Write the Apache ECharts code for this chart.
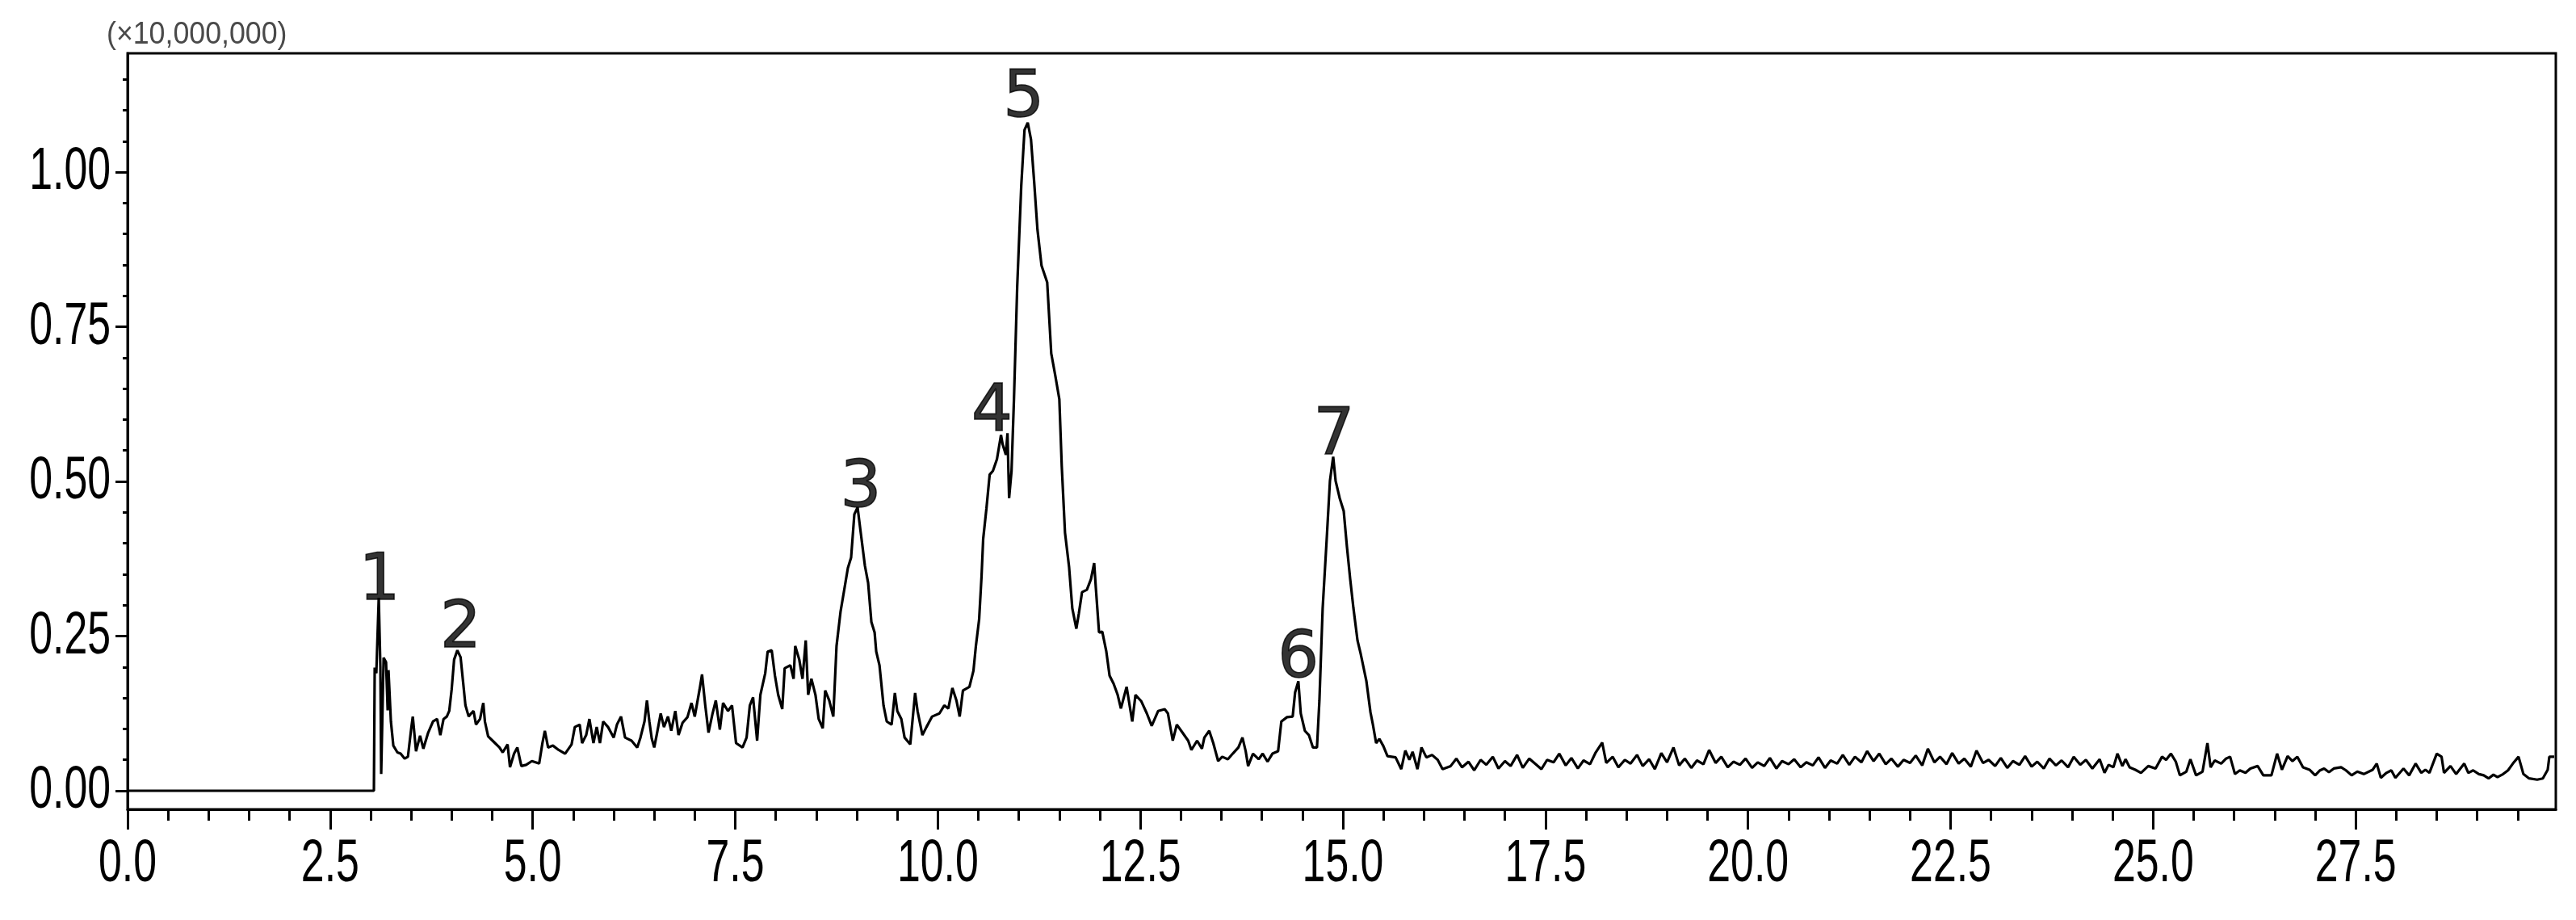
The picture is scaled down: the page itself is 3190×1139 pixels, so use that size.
<!DOCTYPE html>
<html>
<head>
<meta charset="utf-8">
<script src="https://cdn.jsdelivr.net/npm/echarts@6/dist/echarts.min.js"></script>
<style>
html,body{margin:0;padding:0;background:#fff;}
#chart{width:3190px;height:1139px;}
</style>
</head>
<body>
<div id="chart"></div>
<script>
// Retention time (min)
const retentionTime = [
0,3.04,3.05,3.07,3.10,3.12,3.13,3.16,3.19,3.21,3.22,3.25,3.28,3.33,3.37,3.42,3.46,3.50,3.52,3.56,
3.61,3.65,3.71,3.77,3.82,3.86,3.90,3.94,3.97,4.00,4.03,4.07,4.11,4.14,4.17,4.21,4.24,4.27,4.30,4.35,
4.39,4.41,4.45,4.52,4.59,4.63,4.69,4.72,4.77,4.81,4.86,4.92,4.99,5.08,5.12,5.15,5.19,5.25,5.32,5.40,
5.48,5.52,5.58,5.61,5.66,5.70,5.75,5.79,5.83,5.87,5.93,6.00,6.04,6.09,6.14,6.22,6.29,6.33,6.38,6.41,
6.44,6.47,6.50,6.53,6.58,6.62,6.67,6.71,6.76,6.80,6.85,6.91,6.96,7.00,7.06,7.09,7.13,7.17,7.22,7.26,
7.31,7.35,7.41,7.46,7.51,7.59,7.64,7.68,7.72,7.77,7.81,7.87,7.90,7.95,7.99,8.03,8.08,8.11,8.18,8.22,
8.24,8.29,8.33,8.37,8.40,8.44,8.49,8.53,8.58,8.61,8.66,8.71,8.75,8.80,8.84,8.89,8.93,8.97,9.01,9.05,
9.10,9.14,9.18,9.22,9.24,9.28,9.33,9.37,9.43,9.47,9.50,9.55,9.59,9.66,9.72,9.75,9.81,9.86,9.93,10.02,
10.08,10.13,10.18,10.23,10.27,10.31,10.39,10.44,10.47,10.51,10.54,10.56,10.60,10.64,10.68,10.73,10.78,10.80,10.84,10.86,
10.88,10.91,10.94,10.98,11.03,11.07,11.11,11.15,11.19,11.23,11.28,11.35,11.40,11.45,11.50,11.53,11.57,11.62,11.66,11.71,
11.74,11.78,11.84,11.89,11.93,11.95,11.99,12.03,12.08,12.12,12.17,12.22,12.26,12.33,12.40,12.44,12.51,12.58,12.64,12.72,
12.80,12.84,12.90,12.95,13.02,13.09,13.13,13.20,13.26,13.29,13.35,13.40,13.46,13.51,13.58,13.64,13.71,13.76,13.80,13.83,
13.89,13.96,14.01,14.07,14.13,14.20,14.24,14.31,14.38,14.41,14.45,14.48,14.53,14.58,14.63,14.68,14.71,14.75,14.80,14.84,
14.88,14.91,14.96,15.01,15.05,15.09,15.13,15.18,15.22,15.29,15.34,15.37,15.41,15.45,15.50,15.55,15.65,15.72,15.77,15.82,
15.86,15.92,15.97,16.03,16.10,16.17,16.23,16.33,16.40,16.47,16.55,16.62,16.70,16.77,16.85,16.92,17.00,17.07,17.15,17.22,
17.30,17.37,17.45,17.52,17.60,17.67,17.75,17.82,17.90,17.97,18.05,18.12,18.20,18.25,18.33,18.40,18.48,18.55,18.63,18.70,
18.78,18.85,18.93,19.00,19.08,19.15,19.22,19.30,19.37,19.45,19.52,19.60,19.67,19.75,19.82,19.90,19.97,20.05,20.12,20.20,
20.27,20.35,20.42,20.50,20.57,20.65,20.72,20.80,20.87,20.95,21.02,21.10,21.17,21.25,21.32,21.40,21.47,21.55,21.62,21.70,
21.77,21.85,21.92,22.00,22.07,22.15,22.22,22.30,22.37,22.45,22.52,22.60,22.67,22.75,22.82,22.90,22.97,23.05,23.12,23.20,
23.27,23.35,23.42,23.50,23.57,23.65,23.72,23.80,23.87,23.95,24.02,24.10,24.17,24.25,24.34,24.40,24.45,24.51,24.56,24.62,
24.66,24.71,24.78,24.85,24.94,25.03,25.11,25.16,25.22,25.28,25.33,25.41,25.46,25.53,25.61,25.67,25.71,25.76,25.84,25.90,
25.95,26.01,26.07,26.14,26.20,26.29,26.36,26.46,26.53,26.59,26.66,26.72,26.78,26.85,26.93,27.00,27.06,27.11,27.17,27.23,
27.32,27.38,27.45,27.52,27.60,27.71,27.76,27.81,27.88,27.94,27.99,28.09,28.16,28.24,28.31,28.36,28.41,28.50,28.56,28.59,
28.67,28.74,28.84,28.89,28.95,29.02,29.08,29.14,29.20,29.25,29.32,29.38,29.44,29.51,29.57,29.64,29.74,29.81,29.87,29.89,
29.95
];
// Intensity (x10,000,000)
const intensity = [
0,0,0.199,0.190,0.312,0.200,0.027,0.215,0.208,0.130,0.195,0.112,0.073,0.062,0.060,0.052,0.055,0.100,0.120,0.064,
0.089,0.068,0.094,0.112,0.116,0.090,0.116,0.120,0.129,0.164,0.212,0.227,0.216,0.177,0.138,0.120,0.125,0.129,0.107,0.116,
0.142,0.112,0.088,0.079,0.070,0.062,0.075,0.038,0.060,0.070,0.040,0.042,0.048,0.044,0.077,0.097,0.070,0.073,0.066,0.060,
0.075,0.103,0.107,0.077,0.090,0.116,0.077,0.103,0.077,0.112,0.103,0.086,0.107,0.120,0.086,0.081,0.070,0.086,0.112,0.146,
0.112,0.084,0.070,0.090,0.125,0.103,0.120,0.097,0.129,0.090,0.110,0.119,0.142,0.120,0.164,0.188,0.138,0.094,0.125,0.146,
0.099,0.142,0.129,0.138,0.077,0.070,0.086,0.138,0.151,0.081,0.155,0.190,0.225,0.227,0.186,0.155,0.132,0.198,0.203,0.181,
0.234,0.212,0.181,0.243,0.155,0.181,0.155,0.116,0.101,0.162,0.146,0.120,0.234,0.290,0.321,0.360,0.377,0.447,0.458,0.416,
0.364,0.336,0.273,0.256,0.225,0.203,0.138,0.112,0.107,0.158,0.129,0.116,0.086,0.075,0.158,0.129,0.090,0.103,0.120,0.125,
0.138,0.133,0.166,0.146,0.120,0.162,0.168,0.194,0.234,0.277,0.347,0.407,0.456,0.511,0.517,0.536,0.575,0.560,0.543,0.578,
0.473,0.517,0.633,0.815,0.978,1.068,1.080,1.053,0.983,0.907,0.849,0.822,0.707,0.671,0.633,0.524,0.417,0.362,0.295,0.262,
0.286,0.321,0.325,0.342,0.368,0.329,0.256,0.257,0.225,0.186,0.173,0.155,0.133,0.168,0.112,0.155,0.145,0.125,0.105,0.129,
0.132,0.125,0.081,0.107,0.094,0.081,0.066,0.081,0.068,0.086,0.097,0.077,0.048,0.055,0.051,0.060,0.070,0.086,0.064,0.040,
0.060,0.051,0.060,0.047,0.060,0.064,0.112,0.119,0.120,0.159,0.177,0.125,0.097,0.090,0.070,0.070,0.146,0.295,0.407,0.501,
0.540,0.501,0.473,0.452,0.394,0.342,0.295,0.243,0.221,0.177,0.127,0.107,0.077,0.084,0.072,0.056,0.054,0.035,0.065,0.050,
0.063,0.035,0.070,0.054,0.058,0.050,0.035,0.040,0.052,0.038,0.047,0.033,0.050,0.042,0.055,0.036,0.048,0.040,0.058,0.037,
0.052,0.044,0.035,0.050,0.046,0.060,0.041,0.053,0.036,0.049,0.043,0.062,0.078,0.045,0.055,0.038,0.050,0.044,0.058,0.040,
0.051,0.035,0.061,0.046,0.070,0.041,0.052,0.037,0.049,0.043,0.066,0.045,0.055,0.038,0.047,0.042,0.052,0.037,0.046,0.040,
0.053,0.036,0.048,0.043,0.051,0.038,0.046,0.041,0.054,0.037,0.049,0.044,0.058,0.042,0.055,0.046,0.064,0.048,0.060,0.043,
0.052,0.039,0.050,0.045,0.057,0.041,0.068,0.046,0.055,0.043,0.061,0.044,0.052,0.039,0.065,0.045,0.050,0.040,0.053,0.037,
0.048,0.042,0.056,0.039,0.047,0.036,0.052,0.041,0.049,0.038,0.055,0.042,0.050,0.036,0.051,0.029,0.042,0.038,0.060,0.040,
0.051,0.038,0.034,0.029,0.040,0.036,0.055,0.050,0.060,0.047,0.025,0.031,0.051,0.025,0.031,0.077,0.038,0.049,0.044,0.052,
0.055,0.027,0.033,0.029,0.036,0.040,0.025,0.025,0.060,0.034,0.056,0.048,0.055,0.038,0.034,0.025,0.033,0.036,0.030,0.036,
0.038,0.033,0.025,0.031,0.027,0.034,0.044,0.021,0.029,0.033,0.021,0.036,0.025,0.044,0.029,0.034,0.029,0.060,0.055,0.029,
0.040,0.027,0.044,0.029,0.033,0.027,0.025,0.020,0.026,0.022,0.027,0.033,0.044,0.055,0.027,0.020,0.018,0.020,0.034,0.055,
0.055
];
// Peak annotations
const peakNames = ['1','2','3','4','5','6','7'];
const peakX = [3.11, 4.11, 9.05, 10.67, 11.06, 14.45, 14.89];
const peakY = [0.337, 0.260, 0.487, 0.610, 1.117, 0.211, 0.571];
// Axis ticks
const xMajorTicks = [0,2.5,5,7.5,10,12.5,15,17.5,20,22.5,25,27.5];
const xTickLabels = ['0.0','2.5','5.0','7.5','10.0','12.5','15.0','17.5','20.0','22.5','25.0','27.5'];
const xMinorTicks = [0.5,1,1.5,2,3,3.5,4,4.5,5.5,6,6.5,7,8,8.5,9,9.5,10.5,11,11.5,12,13,13.5,14,14.5,15.5,16,16.5,17,18,18.5,19,19.5,20.5,21,21.5,22,23,23.5,24,24.5,25.5,26,26.5,27,28,28.5,29,29.5];
const yMajorTicks = [0,0.25,0.5,0.75,1.0];
const yTickLabels = ['0.00','0.25','0.50','0.75','1.00'];
const yMinorTicks = [0.05,0.1,0.15,0.2,0.3,0.35,0.4,0.45,0.55,0.6,0.65,0.7,0.8,0.85,0.9,0.95,1.05,1.1,1.15];
const yScaleNote = '(×10,000,000)';

const X_MIN = 0, X_MAX = 29.97, Y_MIN = -0.03, Y_MAX = 1.192;
const sansFont = '"Liberation Sans", Arial, sans-serif';

const lineData = retentionTime.map((t, i) => [t, intensity[i]]);
const peakData = peakX.map((x, i) => [x, peakY[i]]);

const chart = echarts.init(document.getElementById('chart'), null, {renderer: 'canvas'});
chart.setOption({
  animation: false,
  backgroundColor: '#fff',
  grid: {left: 158, top: 66, right: 25, bottom: 137, show: true, borderColor: '#000', borderWidth: 3, backgroundColor: 'transparent'},
  xAxis: [
    {
      type: 'value', min: X_MIN, max: X_MAX, position: 'bottom',
      axisLine: {show: true, onZero: false, lineStyle: {color: '#000', width: 3}},
      axisTick: {show: true, customValues: xMajorTicks, length: 25, lineStyle: {color: '#000', width: 3}},
      axisLabel: {show: false},
      splitLine: {show: false}
    },
    {
      type: 'value', min: X_MIN, max: X_MAX, position: 'bottom',
      axisLine: {show: false, onZero: false},
      axisTick: {show: true, customValues: xMinorTicks, length: 14, lineStyle: {color: '#000', width: 3}},
      axisLabel: {show: false},
      splitLine: {show: false}
    }
  ],
  yAxis: [
    {
      type: 'value', min: Y_MIN, max: Y_MAX, position: 'left',
      axisLine: {show: true, onZero: false, lineStyle: {color: '#000', width: 3}},
      axisTick: {show: true, customValues: yMajorTicks, length: 15, lineStyle: {color: '#000', width: 3}},
      axisLabel: {show: false},
      splitLine: {show: false}
    },
    {
      type: 'value', min: Y_MIN, max: Y_MAX, position: 'left',
      axisLine: {show: false, onZero: false},
      axisTick: {show: true, customValues: yMinorTicks, length: 6, lineStyle: {color: '#000', width: 3}},
      axisLabel: {show: false},
      splitLine: {show: false}
    }
  ],
  series: [
    {
      type: 'line', xAxisIndex: 0, yAxisIndex: 0, data: lineData,
      showSymbol: false, symbol: 'none', smooth: false,
      lineStyle: {color: '#000', width: 3.2}, clip: true, z: 3
    },
    {
      type: 'scatter', xAxisIndex: 0, yAxisIndex: 0, data: peakData,
      symbol: 'circle', symbolSize: 1, itemStyle: {color: 'rgba(0,0,0,0)'},
      label: {show: true, position: 'inside', fontSize: 80, fontWeight: 'normal',
        fontFamily: '"DejaVu Sans", Verdana, sans-serif', color: '#000',
        textBorderColor: '#000', textBorderWidth: 1.6,
        formatter: p => peakNames[p.dataIndex]},
      z: 5
    }
  ]
});

// Tick labels: condensed text placed at the axis scale positions
const px = v => chart.convertToPixel({xAxisIndex: 0}, v);
const py = v => chart.convertToPixel({yAxisIndex: 0}, v);
const axisBottom = py(Y_MIN);
const axisLeft = px(X_MIN);
const graphics = [];
xMajorTicks.forEach((v, i) => {
  graphics.push({
    type: 'text', x: px(v), y: axisBottom + 69, scaleX: 0.7, silent: true,
    style: {text: xTickLabels[i], fontSize: 74, fontFamily: sansFont, fill: '#000', align: 'center', verticalAlign: 'middle'}
  });
});
yMajorTicks.forEach((v, i) => {
  graphics.push({
    type: 'text', x: axisLeft - 21, y: py(v) + 1, scaleX: 0.7, silent: true,
    style: {text: yTickLabels[i], fontSize: 74, fontFamily: sansFont, fill: '#000', align: 'right', verticalAlign: 'middle'}
  });
});
graphics.push({
  type: 'text', x: 132, y: 44, scaleX: 0.94, silent: true,
  style: {text: yScaleNote, fontSize: 38, fontFamily: sansFont, fill: '#4a4a4a', align: 'left', verticalAlign: 'middle'}
});
chart.setOption({graphic: graphics});
</script>
</body>
</html>
